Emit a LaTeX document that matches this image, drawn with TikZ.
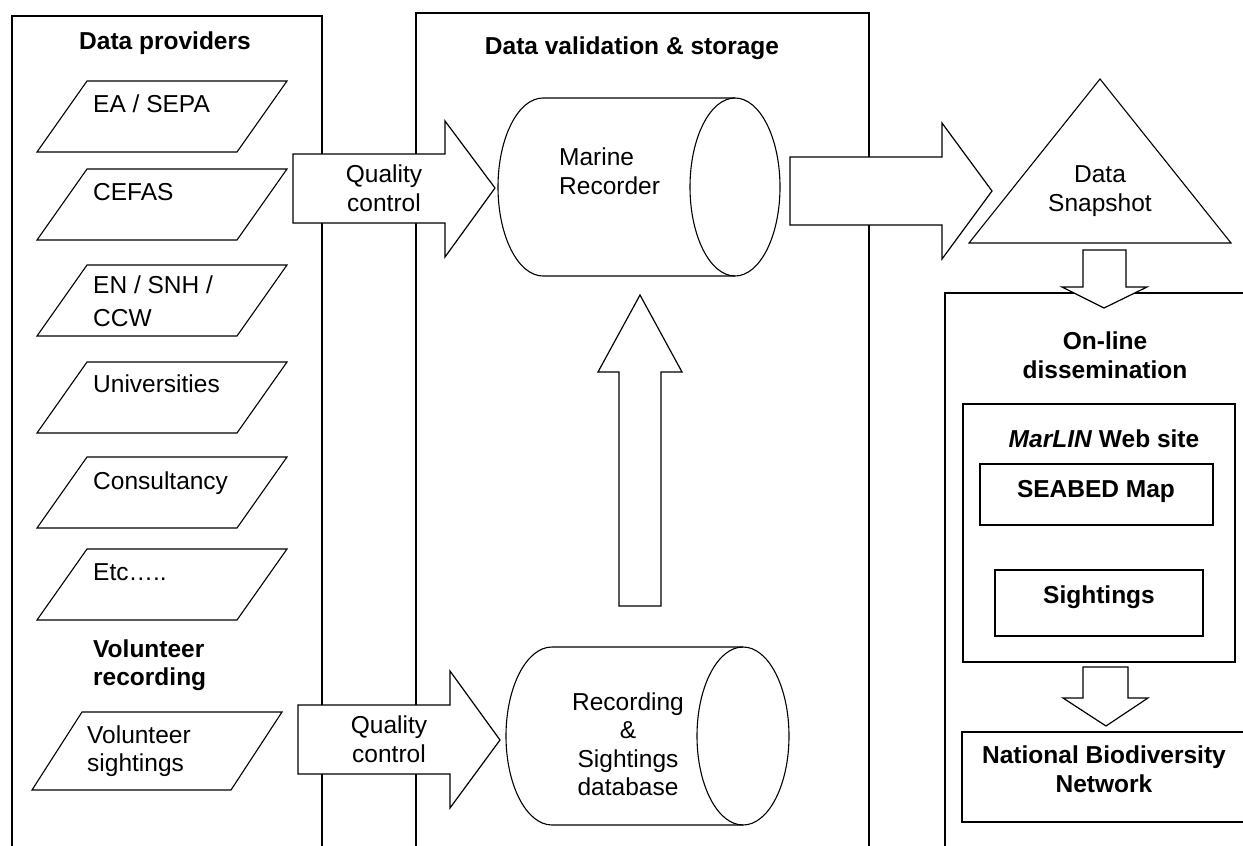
\documentclass[tikz,border=0pt]{standalone}
\usepackage{fontspec}
\setmainfont{Liberation Sans}

\tikzset{
  panel/.style={draw, line width=1.3pt},
  prov/.style={draw, line width=1.1pt, line join=miter},
  bigarrow/.style={draw, fill=white, line width=1.2pt, line join=miter},
  txt/.style={inner sep=0pt, font=\fontsize{24.5}{28.5}\selectfont},
  hdr/.style={inner sep=0pt, font=\fontsize{24.5}{28.5}\selectfont\bfseries},
}

\begin{document}
\begin{tikzpicture}[x=1pt, y=-1pt]
  \useasboundingbox (0,0) rectangle (1243,846);
  \clip (0,0) rectangle (1243,846);

  % Tres paneles, cortados por el borde
  \draw[panel] (12,860) -- (12,16) -- (322,16) -- (322,860);
  \draw[panel] (416,860) -- (416,13) -- (869,13) -- (869,860);
  \draw[panel] (945,860) -- (945,293) -- (1260,293);

  % Flechas anchas (encima de los paneles)
  \draw[bigarrow] (293,154) -- (445,154) -- (445,121) -- (495,188) -- (445,257) -- (445,223) -- (293,223) -- cycle;
  \draw[bigarrow] (298,705) -- (450,705) -- (450,671) -- (500,740) -- (450,808) -- (450,774) -- (298,774) -- cycle;
  \draw[bigarrow] (790,157) -- (942,157) -- (942,123) -- (992,191) -- (942,259) -- (942,225) -- (790,225) -- cycle;
  \draw[bigarrow] (619,606) -- (619,372) -- (598,372) -- (640,295) -- (682,372) -- (661,372) -- (661,606) -- cycle;
  \draw[bigarrow] (1083,250) -- (1126,250) -- (1126,287) -- (1147,287) -- (1104,308) -- (1062,287) -- (1083,287) -- cycle;
  \draw[bigarrow] (1083,667) -- (1128,667) -- (1128,698) -- (1148,698) -- (1106,726) -- (1063,698) -- (1083,698) -- cycle;

  % Titulos de los paneles
  \node[hdr, anchor=base] (dp) at (165,49) {Data providers};
  \node[hdr, anchor=base] (dv) at (632,54) {Data validation \& storage};
  \node[hdr, align=center] (od) at (1105,355) {On-line\\dissemination};

  % Proveedores de datos
  \foreach \t in {81,169,265,362,457,549} {
    \draw[prov] (37,\t+71) -- (87,\t) -- (287,\t) -- (237,\t+71) -- cycle;
  }
  \node[txt, anchor=base west] (p1) at (93,112) {EA / SEPA};
  \node[txt, anchor=base west] (p2) at (93,200) {CEFAS};
  \node[txt, anchor=west, align=left] (p3) at (93,301) {EN / SNH /\\[4pt]CCW};
  \node[txt, anchor=base west] (p4) at (93,392) {Universities};
  \node[txt, anchor=base west] (p5) at (93,489) {Consultancy};
  \node[txt, anchor=base west] (p6) at (93,580) {Etc…..};

  \node[hdr, anchor=west, align=left] (vr) at (93,665) {Volunteer\\recording};
  \draw[prov] (32,790) -- (82,712) -- (282,712) -- (231,790) -- cycle;
  \node[txt, anchor=west, align=left] (vs) at (87,751) {Volunteer\\sightings};

  \node[txt, align=center] (qc1) at (384,188) {Quality\\control};
  \node[txt, align=center] (qc2) at (389,739) {Quality\\control};

  % Cilindros
  \draw[prov] (735,98) -- (543,98) arc[start angle=90, end angle=270, x radius=45pt, y radius=89pt] -- (735,276);
  \draw[prov] (735,187) ellipse [x radius=45, y radius=89];
  \node[txt, anchor=west, align=left] (mr) at (559,171) {Marine\\Recorder};

  \draw[prov] (743,647) -- (552,647) arc[start angle=90, end angle=270, x radius=46pt, y radius=89pt] -- (743,825);
  \draw[prov] (743,736) ellipse [x radius=46, y radius=89];
  \node[txt, align=center] (rsd) at (628,744) {Recording\\\&\\Sightings\\database};

  % Instantanea
  \draw[prov] (969,243) -- (1100,79) -- (1231,243) -- cycle;
  \node[txt, align=center] (snap) at (1100,191) {Data\\Snapshot};

  % Difusion en linea
  \draw[panel] (963,404) rectangle (1235,662);
  \node[hdr, anchor=base] (web) at (1104,447) {\textit{MarLIN} Web site};
  \draw[panel] (980,464) rectangle (1213,525);
  \node[hdr, anchor=base] (seabed) at (1096,497) {SEABED Map};
  \draw[panel] (995,570) rectangle (1203,636);
  \node[hdr, anchor=base] (sight) at (1099,603) {Sightings};
  \draw[panel] (962,732) rectangle (1248,822);
  \node[hdr, align=center] (nbn) at (1104,769) {National Biodiversity\\Network};
\end{tikzpicture}
\end{document}
